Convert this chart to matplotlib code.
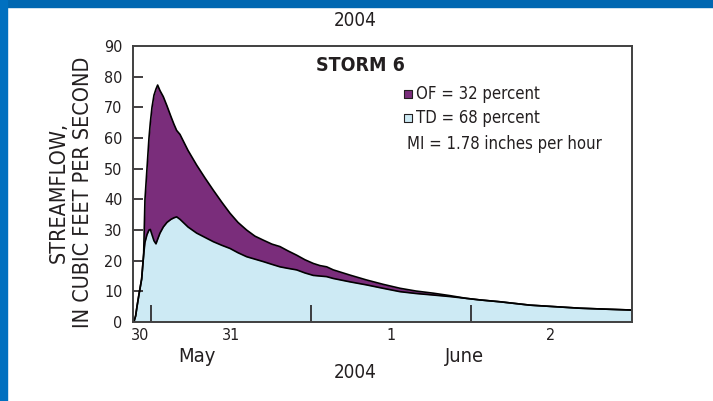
import matplotlib
matplotlib.use("Agg")
import matplotlib.pyplot as plt
from matplotlib.patches import Rectangle

plt.rcParams['font.family'] = ['DejaVu Sans']
plt.rcParams['font.stretch'] = 'condensed'

# hours since 00:00 on 30 May 2004
hours = [21.3, 21.5, 21.7, 21.9, 22.2, 22.6, 22.9, 23.1, 23.4, 23.7, 23.9,
         24.15, 24.45, 24.75, 25.0, 25.35, 25.85, 26.4, 27.0, 27.45, 27.85,
         28.35, 29.55, 30.85, 32.1, 33.35, 34.65, 35.85, 37.05, 38.35, 39.6,
         40.85, 42.15, 43.35, 44.55, 45.85, 47.1, 48.35, 49.35, 50.35, 51.35,
         53.85, 56.35, 58.8, 61.35, 63.75, 66.35, 68.85, 71.35, 73.35, 76.35,
         80.85, 84.6, 88.35, 92.1, 96.15]
# total streamflow, ft3/s
total = [0, 0.5, 2, 5, 9, 14, 22, 40, 50, 60, 65,
         70, 74, 76, 77.3, 75.5, 73.5, 70.5, 67, 64.5, 62.5,
         61.2, 56, 51.2, 47, 43, 39, 35.5, 32.5, 30, 28,
         26.7, 25.4, 24.6, 23.2, 21.8, 20.3, 19.1, 18.4, 18, 17,
         15.3, 13.7, 12.3, 11, 10.1, 9.4, 8.6, 7.7, 7.2, 6.6,
         5.5, 5.0, 4.5, 4.2, 3.9]
# throughflow part (TD)
td = [0, 0.5, 2, 5, 9, 14, 22, 26, 28.5, 30, 30.2,
      28.5, 26.5, 25.5, 27, 29, 31, 32.5, 33.5, 34, 34.3,
      33.5, 31, 29, 27.6, 26.2, 25, 24, 22.6, 21.3, 20.5,
      19.7, 18.8, 18, 17.5, 17, 16, 15.2, 15, 14.8, 14.2,
      13.1, 12.1, 11, 9.9, 9.3, 8.8, 8.3, 7.7, 7.2, 6.6,
      5.5, 5.0, 4.5, 4.2, 3.9]

day_ticks = [24, 48, 72]
day_label_pos = [22.3, 36, 60, 84]
day_labels = ['30', '31', '1', '2']
y_ticks = [0, 10, 20, 30, 40, 50, 60, 70, 80, 90]

purple = '#7a2d7b'
light_blue = '#cdeaf4'
ink = '#231f20'

fig = plt.figure(figsize=(7.13, 4.01), dpi=100)
fig.patches.append(Rectangle((0, 0.982), 1, 0.018, transform=fig.transFigure,
                             color='#0067b1', zorder=0))
fig.patches.append(Rectangle((0, 0), 0.0098, 1, transform=fig.transFigure,
                             color='#0070c0', zorder=0))

ax = fig.add_axes([0.1865, 0.197, 0.6999, 0.688])
ax.fill_between(hours, 0, td, color=light_blue, lw=0)
ax.fill_between(hours, td, total, color=purple, lw=0)
ax.plot(hours, td, color='black', lw=1.2)
ax.plot(hours, total, color='black', lw=1.2)

ax.set_xlim(21.3, 96.15)
ax.set_ylim(0, 90)
for s in ax.spines.values():
    s.set_color('#404040')
    s.set_linewidth(1.4)

ax.set_yticks(y_ticks)
ax.set_yticklabels([str(v) for v in y_ticks], fontsize=11.5, color=ink)
ax.tick_params(axis='y', direction='in', length=7, width=1.2, color=ink, pad=7.5)
for t in ax.yaxis.get_major_ticks():
    if t.get_loc() in (0, 90):
        t.tick1line.set_visible(False)

ax.set_xticks(day_ticks)
ax.set_xticklabels([])
ax.tick_params(axis='x', which='major', direction='in', length=12, width=1.2, color=ink)
ax.set_xticks(day_label_pos, minor=True)
ax.set_xticklabels(day_labels, minor=True, fontsize=11.5, color=ink)
ax.tick_params(axis='x', which='minor', length=0, pad=4)

ax.set_ylabel('STREAMFLOW,\nIN CUBIC FEET PER SECOND', fontsize=15.5, color=ink,
              linespacing=1.3)
ax.yaxis.set_label_coords(-0.08, 0.471)

ax.text(0.455, 0.93, 'STORM 6', transform=ax.transAxes, fontsize=14,
        fontweight='bold', color=ink, ha='center', va='center')
ax.scatter([0.552], [0.828], marker='s', s=30, c=purple, edgecolors=ink,
           linewidths=0.8, transform=ax.transAxes, clip_on=False)
ax.scatter([0.552], [0.741], marker='s', s=30, c=light_blue, edgecolors=ink,
           linewidths=0.8, transform=ax.transAxes, clip_on=False)
ax.text(0.568, 0.828, 'OF = 32 percent', transform=ax.transAxes, fontsize=12,
        color=ink, va='center')
ax.text(0.568, 0.741, 'TD = 68 percent', transform=ax.transAxes, fontsize=12,
        color=ink, va='center')
ax.text(0.549, 0.647, 'MI = 1.78 inches per hour', transform=ax.transAxes,
        fontsize=12, color=ink, va='center')

fig.text(355 / 713, 1 - 20 / 401, '2004', fontsize=13.5, color=ink, ha='center', va='center')
fig.text(197 / 713, 1 - 357 / 401, 'May', fontsize=14.5, color=ink, ha='center', va='center')
fig.text(465 / 713, 1 - 357 / 401, 'June', fontsize=14.5, color=ink, ha='center', va='center')
fig.text(355 / 713, 1 - 373 / 401, '2004', fontsize=13.5, color=ink, ha='center', va='center')

fig.savefig('out.png', dpi=100)
